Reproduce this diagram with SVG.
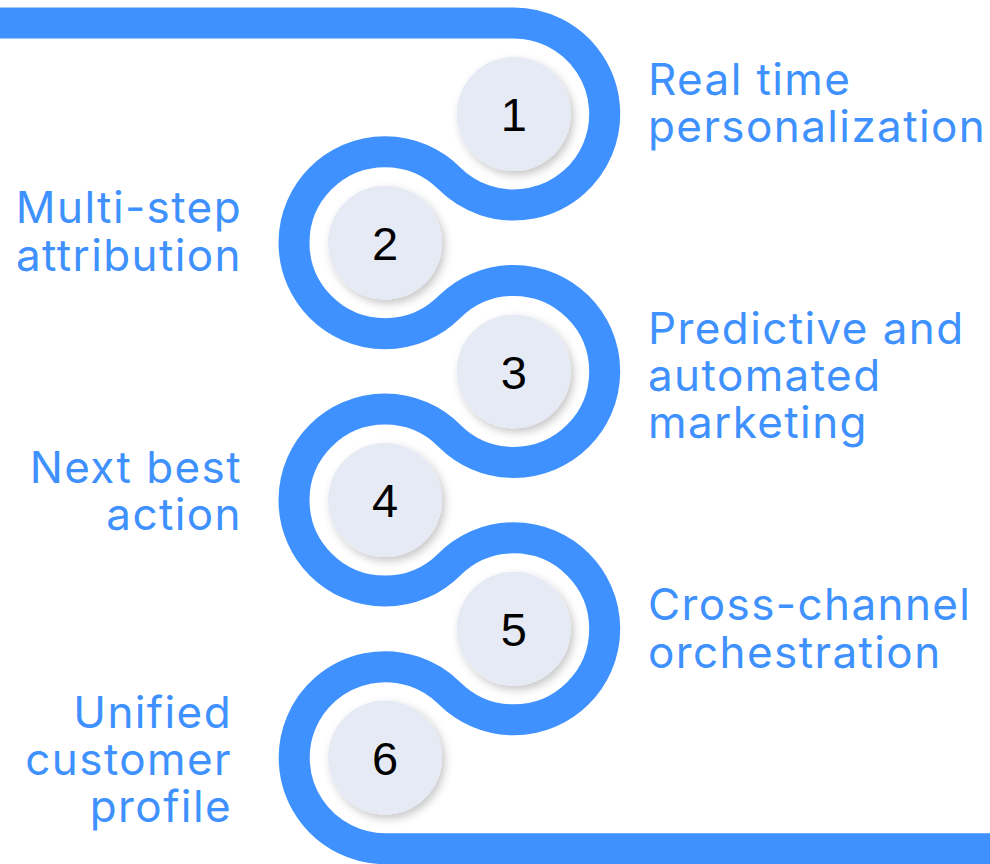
<svg xmlns="http://www.w3.org/2000/svg" width="990" height="864" viewBox="0 0 990 864">
  <style>
    .track { fill: none; stroke: #3e91fe; stroke-width: 31; }
    .disc { fill: #e6eaf5; filter: url(#shadow); }
    .num { font-family: "Liberation Sans", Arial, sans-serif; font-size: 47px; fill: #000; text-anchor: middle; }
    .label { font-family: Inter, "Liberation Sans", sans-serif; font-size: 44px; font-weight: 400; letter-spacing: 1.4px; fill: #3e91fe; }
    .left { text-anchor: end; }
  </style>
  <defs>
    <filter id="shadow" x="-30%" y="-30%" width="160%" height="160%">
      <feDropShadow dx="3" dy="4" stdDeviation="4" flood-color="#000" flood-opacity="0.22"/>
    </filter>
  </defs>

  <!-- serpentine track linking the steps -->
  <g id="connectors">
    <path class="track" d="M0,23 H513.7 A91 91 0 1 1 449.35,178.35 A91 91 0 1 0 449.35,307.05 A91 91 0 1 1 449.35,435.75 A91 91 0 1 0 449.35,564.45 A91 91 0 1 1 449.35,693.15 A91 91 0 1 0 385,848.7 H990"/>
  </g>

  <g id="step1">
    <circle class="disc" cx="513.7" cy="114" r="57"/>
    <text class="num" x="513.7" y="131">1</text>
    <text class="label" x="648" y="95">Real time</text>
    <text class="label" x="648" y="142">personalization</text>
  </g>

  <g id="step2">
    <circle class="disc" cx="385" cy="242.7" r="57"/>
    <text class="num" x="385" y="260">2</text>
    <text class="label left" x="242" y="223">Multi-step</text>
    <text class="label left" x="242" y="271">attribution</text>
  </g>

  <g id="step3">
    <circle class="disc" cx="513.7" cy="371.4" r="57"/>
    <text class="num" x="513.7" y="389">3</text>
    <text class="label" x="648" y="344">Predictive and</text>
    <text class="label" x="648" y="391">automated</text>
    <text class="label" x="648" y="438">marketing</text>
  </g>

  <g id="step4">
    <circle class="disc" cx="385" cy="500.1" r="57"/>
    <text class="num" x="385" y="517">4</text>
    <text class="label left" x="242" y="483">Next best</text>
    <text class="label left" x="242" y="530">action</text>
  </g>

  <g id="step5">
    <circle class="disc" cx="513.7" cy="628.8" r="57"/>
    <text class="num" x="513.7" y="646">5</text>
    <text class="label" x="648" y="620">Cross-channel</text>
    <text class="label" x="648" y="668">orchestration</text>
  </g>

  <g id="step6">
    <circle class="disc" cx="385" cy="757.5" r="57"/>
    <text class="num" x="385" y="775">6</text>
    <text class="label left" x="232" y="728">Unified</text>
    <text class="label left" x="232" y="775">customer</text>
    <text class="label left" x="232" y="822">profile</text>
  </g>
</svg>
